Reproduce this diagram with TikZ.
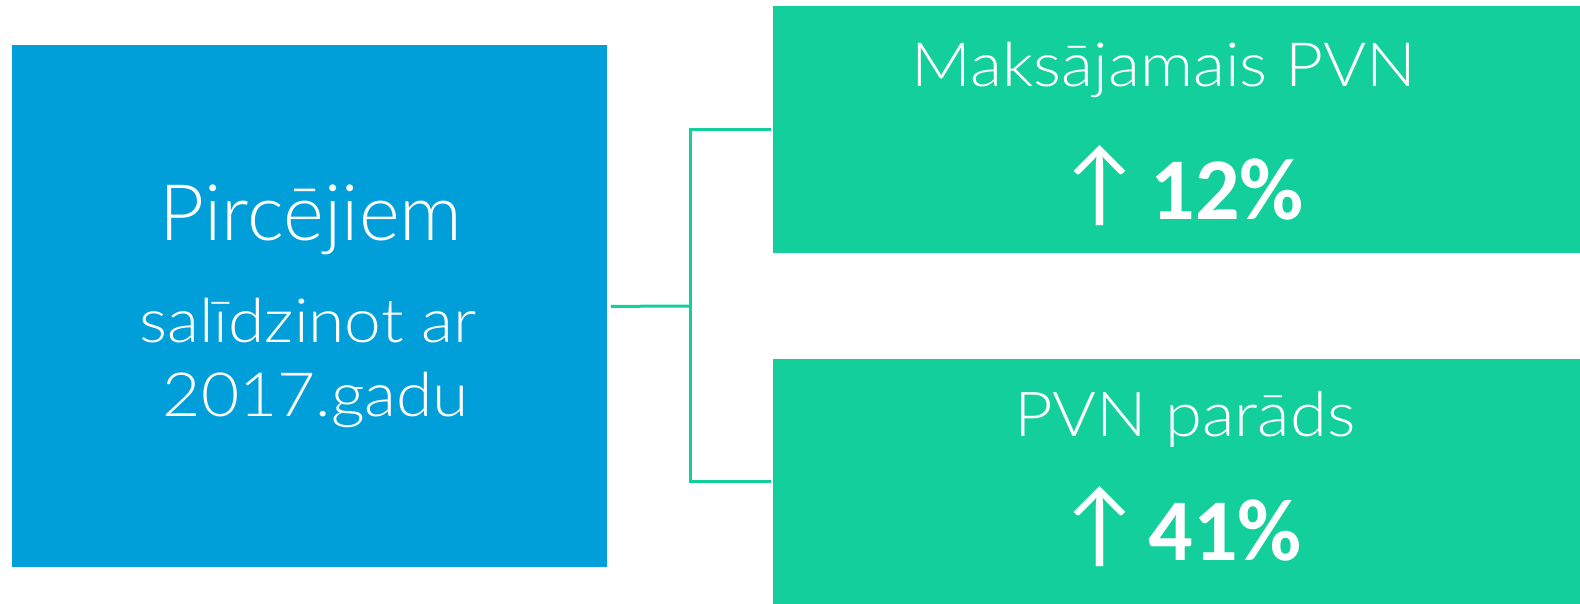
\documentclass[tikz,border=0pt]{standalone}
\usepackage{fontspec}
\setmainfont{Lato Light}
\newfontfamily\widefont{Lato Light}[FakeStretch=1.08]
\newfontfamily\numfont{Carlito}
\definecolor{boxblue}{HTML}{019FD9}
\definecolor{boxgreen}{HTML}{13CF9C}
\tikzset{
  panel/.style={draw=none, inner sep=0pt, anchor=north west},
  conn/.style={draw=boxgreen, line width=1.5pt},
  txt/.style={text=white, inner sep=0pt, anchor=base},
}
\begin{document}
\begin{tikzpicture}[x=0.5pt,y=-0.5pt]
\useasboundingbox (0,0) rectangle (1580,604);
\node[panel, fill=boxblue, minimum width=297.5pt, minimum height=261pt] (blue) at (12,45) {};
\node[panel, fill=boxgreen, minimum width=403.5pt, minimum height=123.5pt] (g1) at (773,6) {};
\node[panel, fill=boxgreen, minimum width=403.5pt, minimum height=122.5pt] (g2) at (773,359) {};
\coordinate (j) at (690,306);
\draw[conn] ([xshift=1.5pt]blue.east) -- (j);
\draw[conn, shorten <=1pt, shorten >=1pt] (g1.west) -| (j) |- (g2.west);
\node[txt, font=\fontsize{39}{48}\selectfont] (t1) at (311,241) {Pircējiem};
\node[txt, font=\widefont\fontsize{30.5}{36}\selectfont] (t2) at (308,343) {salīdzinot ar};
\node[txt, font=\widefont\fontsize{30.5}{36}\selectfont] (t3) at (316,416) {2017.gadu};
\node[txt, font=\widefont\fontsize{30.5}{36}\selectfont] (t4) at (1164,87) {Maksājamais PVN};
\node[txt, font=\widefont\fontsize{31}{36}\selectfont] (t5) at (1185,437) {PVN parāds};
\node[txt, font=\numfont\fontsize{48}{56}\selectfont] (a1) at (1100,216) {↑};
\node[txt, anchor=base west, font=\numfont\bfseries\fontsize{44}{50}\selectfont] (p1) at (1150,220) {12\%};
\node[txt, font=\numfont\fontsize{48}{56}\selectfont] (a2) at (1100,556) {↑};
\node[txt, anchor=base west, font=\numfont\bfseries\fontsize{44}{50}\selectfont] (p2) at (1148,560) {41\%};
\end{tikzpicture}
\end{document}
